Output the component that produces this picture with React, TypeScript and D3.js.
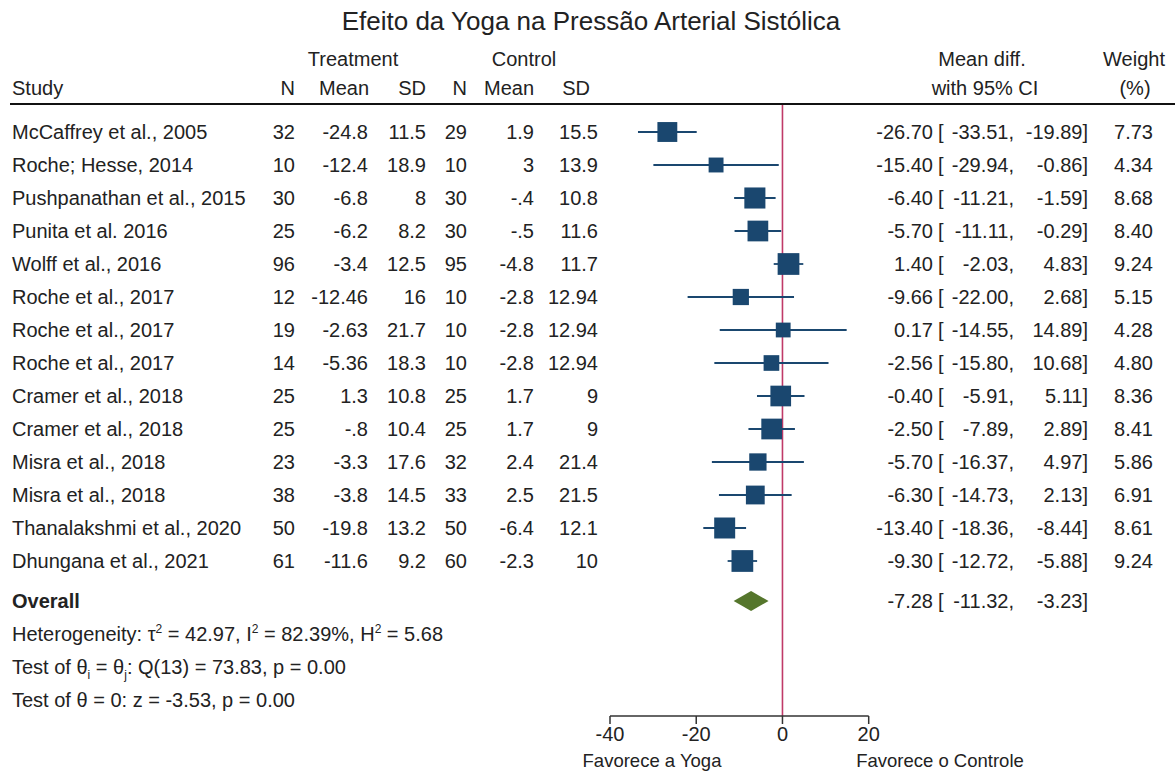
import * as d3 from "d3";

const studies = [
  "McCaffrey et al., 2005",
  "Roche; Hesse, 2014",
  "Pushpanathan et al., 2015",
  "Punita et al. 2016",
  "Wolff et al., 2016",
  "Roche et al., 2017",
  "Roche et al., 2017",
  "Roche et al., 2017",
  "Cramer et al., 2018",
  "Cramer et al., 2018",
  "Misra et al., 2018",
  "Misra et al., 2018",
  "Thanalakshmi et al., 2020",
  "Dhungana et al., 2021",
];
const treatN = [32, 10, 30, 25, 96, 12, 19, 14, 25, 25, 23, 38, 50, 61];
const treatMean = [-24.8, -12.4, -6.8, -6.2, -3.4, -12.46, -2.63, -5.36, 1.3, -0.8, -3.3, -3.8, -19.8, -11.6];
const treatSD = [11.5, 18.9, 8, 8.2, 12.5, 16, 21.7, 18.3, 10.8, 10.4, 17.6, 14.5, 13.2, 9.2];
const ctrlN = [29, 10, 30, 30, 95, 10, 10, 10, 25, 25, 32, 33, 50, 60];
const ctrlMean = [1.9, 3, -0.4, -0.5, -4.8, -2.8, -2.8, -2.8, 1.7, 1.7, 2.4, 2.5, -6.4, -2.3];
const ctrlSD = [15.5, 13.9, 10.8, 11.6, 11.7, 12.94, 12.94, 12.94, 9, 9, 21.4, 21.5, 12.1, 10];
const meanDiff = [-26.7, -15.4, -6.4, -5.7, 1.4, -9.66, 0.17, -2.56, -0.4, -2.5, -5.7, -6.3, -13.4, -9.3];
const ciLow = [-33.51, -29.94, -11.21, -11.11, -2.03, -22.0, -14.55, -15.8, -5.91, -7.89, -16.37, -14.73, -18.36, -12.72];
const ciHigh = [-19.89, -0.86, -1.59, -0.29, 4.83, 2.68, 14.89, 10.68, 5.11, 2.89, 4.97, 2.13, -8.44, -5.88];
const weights = [7.73, 4.34, 8.68, 8.4, 9.24, 5.15, 4.28, 4.8, 8.36, 8.41, 5.86, 6.91, 8.61, 9.24];

const overall = { est: -7.28, lo: -11.32, hi: -3.23 };
const xTicks = [-40, -20, 0, 20];

const W = 1175;
const H = 771;
const FONT = "'Liberation Sans', Arial, sans-serif";
const FS = 20;
const NAVY = "#1a476f";
const GREEN = "#55762c";
const REF = "#c03a68";

// stata style: -.4 instead of -0.4
const stataNum = (v: number) => String(v).replace(/^(-?)0\./, "$1.");
const fmt = d3.format(".2f");
const f2 = (v: number) => fmt(v).replace("\u2212", "-");

export default function App() {
  const x = d3.scaleLinear().domain([-40, 20]).range([610, 868.7]);
  const y = d3
    .scaleLinear()
    .domain([0, studies.length - 1])
    .range([132, 132 + 33 * (studies.length - 1)]);
  const side = (w: number) => 7.15 * Math.sqrt(w);

  const axisY = 716;
  const overallY = y(studies.length - 1) + 40;

  const cols = [
    { x: 295, vals: treatN },
    { x: 368, vals: treatMean },
    { x: 426, vals: treatSD },
    { x: 467, vals: ctrlN },
    { x: 534, vals: ctrlMean },
    { x: 598, vals: ctrlSD },
  ];

  const diamond = [
    [x(overall.lo), overallY],
    [x(overall.est), overallY - 10],
    [x(overall.hi), overallY],
    [x(overall.est), overallY + 10],
  ];

  return (
    <svg
      width={W}
      height={H}
      style={{ position: "absolute", left: 0, top: 0, background: "#fff" }}
      fontFamily={FONT}
      fontSize={FS}
      fill="#222"
    >
      <text x={591} y={30} fontSize={26} textAnchor="middle">
        Efeito da Yoga na Pressão Arterial Sistólica
      </text>

      {/* header */}
      <text x={353} y={66} textAnchor="middle">Treatment</text>
      <text x={524} y={66} textAnchor="middle">Control</text>
      <text x={982} y={66} textAnchor="middle">Mean diff.</text>
      <text x={1134} y={66} textAnchor="middle">Weight</text>
      <text x={12} y={95}>Study</text>
      <text x={295} y={95} textAnchor="end">N</text>
      <text x={369} y={95} textAnchor="end">Mean</text>
      <text x={426} y={95} textAnchor="end">SD</text>
      <text x={467} y={95} textAnchor="end">N</text>
      <text x={534} y={95} textAnchor="end">Mean</text>
      <text x={590} y={95} textAnchor="end">SD</text>
      <text x={985} y={95} textAnchor="middle">with 95% CI</text>
      <text x={1135} y={95} textAnchor="middle">(%)</text>
      <line x1={10} x2={W} y1={104} y2={104} stroke="#111" strokeWidth={2} />

      {/* no-effect line */}
      <line x1={x(0)} x2={x(0)} y1={105} y2={axisY} stroke={REF} strokeWidth={1.6} />

      {studies.map((s, i) => {
        const cy = y(i);
        const sz = side(weights[i]);
        return (
          <g key={i}>
            <text x={12} y={cy + 7}>{s}</text>
            {cols.map((c, j) => (
              <text key={j} x={c.x} y={cy + 7} textAnchor="end">
                {stataNum(c.vals[i])}
              </text>
            ))}
            <line x1={x(ciLow[i])} x2={x(ciHigh[i])} y1={cy} y2={cy} stroke={NAVY} strokeWidth={1.8} />
            <rect x={x(meanDiff[i]) - sz / 2} y={cy - sz / 2} width={sz} height={sz} fill={NAVY} />
            <text x={933} y={cy + 7} textAnchor="end">{f2(meanDiff[i])}</text>
            <text x={938} y={cy + 7}>[</text>
            <text x={1014} y={cy + 7} textAnchor="end">{f2(ciLow[i])},</text>
            <text x={1088} y={cy + 7} textAnchor="end">{f2(ciHigh[i])}]</text>
            <text x={1153} y={cy + 7} textAnchor="end">{f2(weights[i])}</text>
          </g>
        );
      })}

      {/* overall */}
      <text x={12} y={overallY + 7} fontWeight="bold">Overall</text>
      <polygon points={diamond.map((p) => p.join(",")).join(" ")} fill={GREEN} />
      <text x={933} y={overallY + 7} textAnchor="end">{f2(overall.est)}</text>
      <text x={938} y={overallY + 7}>[</text>
      <text x={1014} y={overallY + 7} textAnchor="end">{f2(overall.lo)},</text>
      <text x={1088} y={overallY + 7} textAnchor="end">{f2(overall.hi)}]</text>

      <text x={12} y={overallY + 40}>
        Heterogeneity: τ<tspan dy={-8} fontSize={12}>2</tspan>
        <tspan dy={8}> = 42.97, I</tspan>
        <tspan dy={-8} fontSize={12}>2</tspan>
        <tspan dy={8}> = 82.39%, H</tspan>
        <tspan dy={-8} fontSize={12}>2</tspan>
        <tspan dy={8}> = 5.68</tspan>
      </text>
      <text x={12} y={overallY + 73}>
        Test of θ<tspan dy={5} fontSize={12}>i</tspan>
        <tspan dy={-5}> = θ</tspan>
        <tspan dy={5} fontSize={12}>j</tspan>
        <tspan dy={-5}>: Q(13) = 73.83, p = 0.00</tspan>
      </text>
      <text x={12} y={overallY + 106}>Test of θ = 0: z = -3.53, p = 0.00</text>

      {/* axis */}
      <line x1={x(-40)} x2={x(20)} y1={axisY} y2={axisY} stroke="#333" strokeWidth={1.5} />
      {xTicks.map((t) => (
        <g key={t}>
          <line x1={x(t)} x2={x(t)} y1={axisY} y2={axisY + 8} stroke="#333" strokeWidth={1.5} />
          <text x={x(t)} y={axisY + 25} textAnchor="middle">{t}</text>
        </g>
      ))}
      <text x={652} y={767} fontSize={18.5} textAnchor="middle">Favorece a Yoga</text>
      <text x={940} y={767} fontSize={18.5} textAnchor="middle">Favorece o Controle</text>
    </svg>
  );
}
